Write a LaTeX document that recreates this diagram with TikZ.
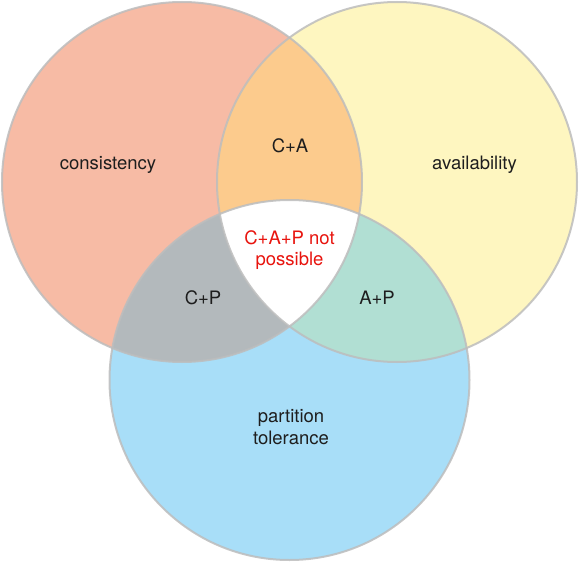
\documentclass[tikz,border=0pt]{standalone}
\usepackage{fontspec}
\setmainfont{TeX Gyre Heros}
\definecolor{cons}{HTML}{F7BBA5}
\definecolor{avail}{HTML}{FEF6C0}
\definecolor{part}{HTML}{A8DEF8}
\definecolor{caC}{HTML}{FCCB8D}
\definecolor{cpC}{HTML}{B3B9BC}
\definecolor{apC}{HTML}{B1DFD3}
\definecolor{edge}{HTML}{BDBDBD}
\definecolor{txt}{HTML}{1E1E1E}
\definecolor{warn}{HTML}{E8140E}
\tikzset{
  lbl/.style={text=txt, font=\fontsize{18.5}{21.5}\selectfont, align=center, inner sep=0pt},
  warnlbl/.style={lbl, text=warn},
  rim/.style={draw=edge, line width=2pt, draw opacity=0.85}
}
\begin{document}
\begin{tikzpicture}[x=1pt,y=-1pt]
\useasboundingbox (0,0) rectangle (579,562);
\def\cirC{(182,182) circle[radius=180pt]}
\def\cirA{(397,182) circle[radius=180pt]}
\def\cirP{(289.5,380) circle[radius=180pt]}
\fill[cons] \cirC;
\fill[avail] \cirA;
\fill[part] \cirP;
\begin{scope}\clip \cirC; \fill[caC] \cirA; \end{scope}
\begin{scope}\clip \cirC; \fill[cpC] \cirP; \end{scope}
\begin{scope}\clip \cirA; \fill[apC] \cirP; \end{scope}
\begin{scope}\clip \cirC; \clip \cirA; \fill[white] \cirP; \end{scope}
\draw[rim] \cirC;
\draw[rim] \cirA;
\draw[rim] \cirP;
\node[lbl] (c) at (108,165) {consistency};
\node[lbl] (a) at (474.5,165) {availability};
\node[lbl] (ca) at (290,146) {C+A};
\node[lbl] (cp) at (203,298) {C+P};
\node[lbl] (ap) at (377,298) {A+P};
\node[warnlbl] (cap) at (289.5,250) {C+A+P not\\possible};
\node[lbl] (p) at (291,427) {partition\\tolerance};
\end{tikzpicture}
\end{document}
